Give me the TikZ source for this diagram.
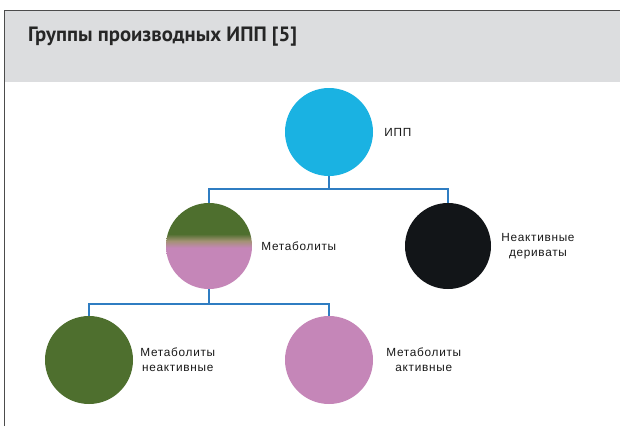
\documentclass[tikz,border=0pt]{standalone}
\usepackage{fontspec}
\usepackage{tikz}
\usetikzlibrary{positioning}
\newfontfamily\titlefont{PT Sans}
\newfontfamily\lblfont[LetterSpace=6]{Liberation Sans}
\definecolor{metgreen}{HTML}{4E6F2E}
\definecolor{metpink}{HTML}{C586B8}
\definecolor{metmid}{HTML}{A39274}
\pgfdeclareverticalshading{metshade}{100bp}{color(0bp)=(metpink); color(49bp)=(metpink); color(53bp)=(metmid); color(57bp)=(metgreen); color(100bp)=(metgreen)}

\begin{document}
\begin{tikzpicture}[x=1pt, y=-1pt,
        every node/.style={inner sep=1pt},
        ball/.style={circle, minimum size=88pt, inner sep=0pt},
        lbl/.style={font=\lblfont\fontsize{11.8}{15}\selectfont, align=center, text=black!90},
        link/.style={draw=linkblue, line width=1.7pt}]
            % colours
            \definecolor{ippblue}{HTML}{1AB2E2}
            \definecolor{linkblue}{HTML}{2F7DC2}
            \definecolor{derblack}{HTML}{121518}
            \definecolor{headgray}{HTML}{DCDDDF}
            \useasboundingbox (0,0) rectangle (620,426);
            \fill[white] (0,0) rectangle (620,426);
            \fill[headgray] (5,11) rectangle (620,82);
            \draw[black!70, line width=1.4pt] (4.5,426) -- (4.5,10.5) -- (620,10.5);
            \node[anchor=base west, font=\titlefont\bfseries\fontsize{20.7}{24}\selectfont, text=black!85] (title) at (27,41.5) {Группы производных ИПП [5]};
            \node[ball, fill=ippblue] (ipp) at (329,132) {};
            \node[ball, shading=metshade, minimum size=86pt] (met) at (209,246) {};
            \node[ball, fill=derblack, minimum size=86pt] (der) at (448,246) {};
            \node[ball, fill=metgreen] (metin) at (89,360) {};
            \node[ball, fill=metpink] (metact) at (329,360) {};
            \node[lbl, right=10pt of ipp] (ipplbl) {ИПП};
            \node[lbl, right=8pt of met] (metlbl) {Метаболиты};
            \node[lbl, right=9pt of der] (derlbl) {Неактивные\\дериваты};
            \node[lbl, right=6pt of metin] (metinlbl) {Метаболиты\\неактивные};
            \node[lbl, right=12pt of metact] (metactlbl) {Метаболиты\\активные};
            \draw[link] (ipp.south) -- ++(0,13) -| (met.north);
            \draw[link] (ipp.south) -- ++(0,13) -| (der.north);
            \draw[link] (met.south) -- ++(0,15) -| (metin.north);
            \draw[link] (met.south) -- ++(0,15) -| (metact.north);
        \end{tikzpicture}
\end{document}
